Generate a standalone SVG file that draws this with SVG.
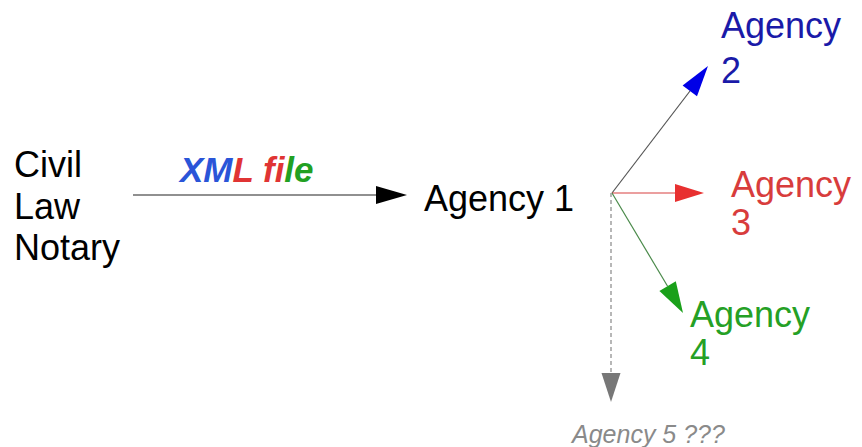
<svg xmlns="http://www.w3.org/2000/svg" width="862" height="447" viewBox="0 0 862 447">
  <style>
    .lbl { font-family: "Liberation Sans", Arial, sans-serif; font-size: 36px; }
    .big { font-family: "Liberation Sans", Arial, sans-serif; font-size: 36px; }
    .xml { font-family: "Liberation Sans", Arial, sans-serif; font-size: 35px; font-weight: bold; font-style: italic; }
    .q { font-family: "Liberation Sans", Arial, sans-serif; font-size: 25px; font-style: italic; fill: #8a8a8a; }
    .ln { fill: none; stroke-width: 1.2; }
  </style>
  <rect width="862" height="447" fill="#ffffff"/>

  <g id="connectors">
    <!-- notary to agency 1 -->
    <line class="ln" x1="133" y1="195" x2="378" y2="195" stroke="#222"/>
    <polygon points="376,186 407,195 376,204" fill="#000"/>
    <!-- to agency 2 -->
    <line class="ln" x1="612" y1="193" x2="690" y2="91" stroke="#555"/>
    <polygon points="697,96.3 708,66 682.6,85.5" fill="#0000e6"/>
    <!-- to agency 3 -->
    <line class="ln" x1="612" y1="193" x2="677" y2="193" stroke="#d84040"/>
    <polygon points="675,184 704,193 675,202" fill="#e83030"/>
    <!-- to agency 4 -->
    <line class="ln" x1="612" y1="193" x2="667.6" y2="286.2" stroke="#4a8a4a"/>
    <polygon points="675.8,281.3 683,313 659.4,291.1" fill="#1aa01a"/>
    <!-- to agency 5 (uncertain) -->
    <line class="ln" x1="611" y1="193" x2="611" y2="374" stroke="#888" stroke-dasharray="4,3"/>
    <polygon points="601.5,373 620.5,373 611,402" fill="#777"/>
  </g>

  <g id="notary">
    <text class="lbl" x="14" y="177" fill="#000">Civil</text>
    <text class="lbl" x="14" y="219" fill="#000">Law</text>
    <text class="lbl" x="14" y="260" fill="#000">Notary</text>
  </g>

  <g id="xml-label">
    <text class="xml" x="180" y="182"><tspan fill="#2a55d8">XM</tspan><tspan fill="#e03434">L fi</tspan><tspan fill="#22a022">le</tspan></text>
  </g>

  <g id="agency1">
    <text class="big" x="424" y="211" fill="#000">Agency 1</text>
  </g>

  <g id="agency2" fill="#1a1aa8">
    <text class="big" x="721" y="38">Agency</text>
    <text class="big" x="721" y="83">2</text>
  </g>

  <g id="agency3" fill="#d83c3c">
    <text class="big" x="731" y="197">Agency</text>
    <text class="big" x="731" y="235">3</text>
  </g>

  <g id="agency4" fill="#25a025">
    <text class="big" x="690" y="327">Agency</text>
    <text class="big" x="690" y="365">4</text>
  </g>

  <g id="agency5">
    <text class="q" x="572" y="443">Agency 5 ???</text>
  </g>
</svg>
